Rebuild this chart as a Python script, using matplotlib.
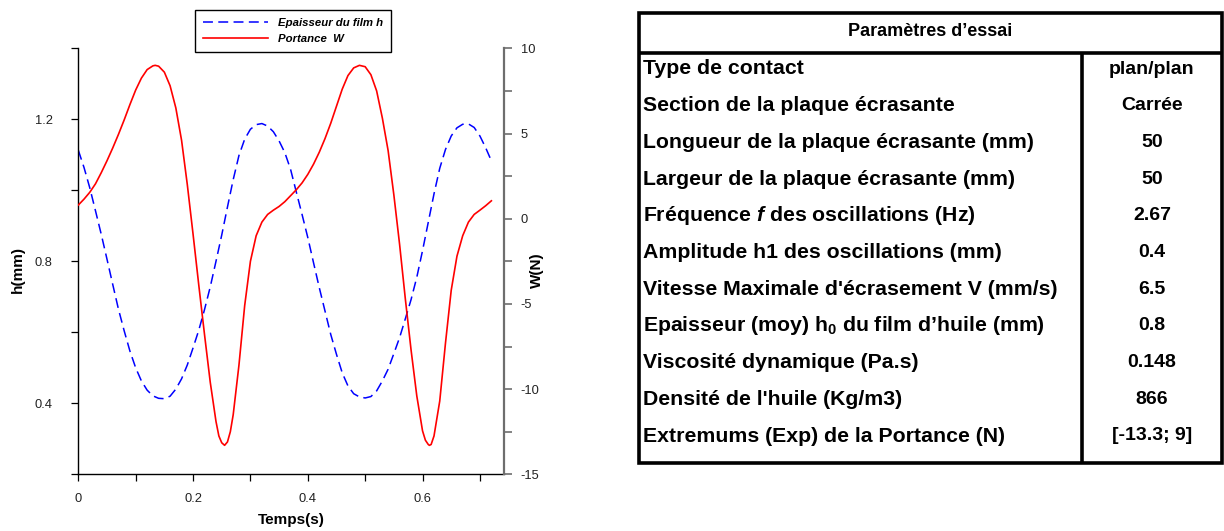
import matplotlib

matplotlib.use("Agg")
import matplotlib.pyplot as plt
from matplotlib.lines import Line2D
from matplotlib.patches import Rectangle


OUT_PATH = "out.png"
FIG_W, FIG_H = 1224, 531

plt.rcParams["font.family"] = ["Liberation Sans", "DejaVu Sans"]
plt.rcParams["mathtext.fontset"] = "custom"
plt.rcParams["mathtext.rm"] = "Liberation Sans:bold"
plt.rcParams["mathtext.it"] = "Liberation Sans:italic:bold"
plt.rcParams["mathtext.bf"] = "Liberation Sans:bold"

# film thickness h (mm), sampled every 10 ms
time_h = [0.00, 0.01, 0.02, 0.03, 0.04, 0.05, 0.06, 0.07, 0.08, 0.09,
          0.10, 0.11, 0.12, 0.13, 0.14, 0.15, 0.16, 0.17, 0.18, 0.19,
          0.20, 0.21, 0.22, 0.23, 0.24, 0.25, 0.26, 0.27, 0.28, 0.29,
          0.30, 0.31, 0.32, 0.33, 0.34, 0.35, 0.36, 0.37, 0.38, 0.39,
          0.40, 0.41, 0.42, 0.43, 0.44, 0.45, 0.46, 0.47, 0.48, 0.49,
          0.50, 0.51, 0.52, 0.53, 0.54, 0.55, 0.56, 0.57, 0.58, 0.59,
          0.60, 0.61, 0.62, 0.63, 0.64, 0.65, 0.66, 0.67, 0.68, 0.69,
          0.70, 0.71, 0.72]
thickness_h = [1.113, 1.064, 1.007, 0.942, 0.876, 0.806, 0.735, 0.665, 0.604, 0.547,
               0.500, 0.463, 0.437, 0.421, 0.414, 0.413, 0.420, 0.440, 0.469, 0.508,
               0.556, 0.606, 0.664, 0.728, 0.800, 0.874, 0.953, 1.030, 1.098, 1.144,
               1.172, 1.185, 1.188, 1.181, 1.165, 1.139, 1.106, 1.059, 0.995, 0.932,
               0.867, 0.796, 0.726, 0.660, 0.594, 0.538, 0.486, 0.449, 0.427, 0.418,
               0.415, 0.419, 0.435, 0.463, 0.496, 0.540, 0.585, 0.638, 0.692, 0.755,
               0.830, 0.910, 0.990, 1.062, 1.115, 1.153, 1.176, 1.186, 1.187, 1.177,
               1.153, 1.120, 1.083]

# load capacity W (N), with extra samples around the extremes
time_w = [0.00, 0.01, 0.02, 0.03, 0.04, 0.05, 0.06, 0.07, 0.08, 0.09,
          0.10, 0.11, 0.12, 0.13, 0.134,
          0.14, 0.15, 0.16, 0.17, 0.18, 0.19, 0.20, 0.21, 0.22, 0.23, 0.24,
          0.245, 0.25, 0.255, 0.26, 0.265,
          0.27, 0.28, 0.29, 0.30, 0.31, 0.32, 0.33, 0.34, 0.35, 0.36,
          0.37, 0.38, 0.39, 0.40, 0.41, 0.42, 0.43, 0.44, 0.45, 0.46,
          0.47, 0.48, 0.49, 0.50, 0.51, 0.52, 0.53, 0.54, 0.55, 0.56,
          0.57, 0.58, 0.59, 0.60,
          0.605, 0.61, 0.612, 0.615,
          0.62, 0.63, 0.64, 0.65, 0.66, 0.67, 0.68, 0.69, 0.70, 0.71, 0.72]
load_w = [0.8, 1.15, 1.55, 2.05, 2.7, 3.4, 4.15, 4.95, 5.8, 6.7,
          7.55, 8.25, 8.75, 8.97, 9.0,
          8.95, 8.6, 7.8, 6.5, 4.6, 2.0, -0.9, -3.9, -6.8, -9.6, -11.9,
          -12.75, -13.15, -13.3, -13.1, -12.5,
          -11.5, -8.6, -5.1, -2.5, -1.0, -0.2, 0.25, 0.5, 0.72, 1.0,
          1.35, 1.7, 2.1, 2.6, 3.2, 3.9, 4.7, 5.6, 6.6, 7.6,
          8.4, 8.85, 9.0, 8.92, 8.45, 7.5, 5.9, 4.0, 1.4, -1.5,
          -4.7, -7.7, -10.4, -12.45,
          -13.0, -13.25, -13.3, -13.25,
          -12.75, -10.7, -7.3, -4.2, -2.2, -1.0, -0.2, 0.25, 0.5, 0.76, 1.05]

time_ticks = [0.0, 0.1, 0.2, 0.3, 0.4, 0.5, 0.6, 0.7]
time_tick_labels = ["0", "", "0.2", "", "0.4", "", "0.6", ""]
h_ticks = [0.2, 0.4, 0.6, 0.8, 1.0, 1.2, 1.4]
h_tick_labels = ["", "0.4", "", "0.8", "", "1.2", ""]
w_ticks = [-15, -12.5, -10, -7.5, -5, -2.5, 0, 2.5, 5, 7.5, 10]
w_tick_labels = ["-15", "", "-10", "", "-5", "", "0", "", "5", "", "10"]

series_labels = ["Epaisseur du film h", "Portance  W"]

table_title = "Paramètres d’essai"
param_names = [
    "Type de contact",
    "Section de la plaque écrasante",
    "Longueur de la plaque écrasante (mm)",
    "Largeur de la plaque écrasante (mm)",
    r"Fréquence $\mathit{f}$ des oscillations (Hz)",
    "Amplitude h1 des oscillations (mm)",
    "Vitesse Maximale d'écrasement V (mm/s)",
    r"Epaisseur (moy) h$_\mathrm{0}$ du film d’huile (mm)",
    "Viscosité dynamique (Pa.s)",
    "Densité de l'huile (Kg/m3)",
    "Extremums (Exp) de la Portance (N)",
]
param_values = ["plan/plan", "Carrée", "50", "50", "2.67", "0.4",
                "6.5", "0.8", "0.148", "866", "[-13.3; 9]"]


def px_box(left, top, right, bottom):
    """Convert a pixel box (origin top-left) to figure fractions."""
    return [left / FIG_W, 1 - bottom / FIG_H,
            (right - left) / FIG_W, (bottom - top) / FIG_H]


def draw_curves(fig):
    ax = fig.add_axes(px_box(78.3, 48.3, 504, 474.3))
    ax2 = ax.twinx()

    blue, = ax.plot(time_h, thickness_h, color="#0000ff", lw=1.1,
                    dashes=(6.5, 3.5))
    red, = ax2.plot(time_w, load_w, color="#ff0000", lw=1.2)

    ax.set_xlim(0, 0.742)
    ax.set_ylim(0.2, 1.4)
    ax2.set_ylim(-15, 10)

    ax.set_xticks(time_ticks, labels=time_tick_labels)
    ax.set_yticks(h_ticks, labels=h_tick_labels)
    ax2.set_yticks(w_ticks, labels=w_tick_labels)

    for side in ("top", "right"):
        ax.spines[side].set_visible(False)
    for side in ("top", "left", "bottom"):
        ax2.spines[side].set_visible(False)
    ax.spines["left"].set_linewidth(1.0)
    ax.spines["bottom"].set_linewidth(1.0)
    ax2.spines["right"].set_color("#6e6e6e")
    ax2.spines["right"].set_linewidth(1.6)

    ax.tick_params(axis="y", direction="out", length=5, width=0.9,
                   labelsize=9.3, pad=13.5, labelcolor="#222222")
    ax.tick_params(axis="x", direction="out", length=5, width=0.9,
                   labelsize=9.3, pad=8.5, labelcolor="#222222")
    ax2.tick_params(axis="y", direction="out", length=5.5, width=1.2,
                    color="#6e6e6e", labelsize=9.3, pad=6.5,
                    labelcolor="#222222")

    label_font = dict(fontsize=11, fontweight="bold")
    ax.set_ylabel("h(mm)", **label_font)
    ax.yaxis.set_label_coords(-0.142, 0.48)
    ax2.set_ylabel("W(N)", rotation=90, **label_font)
    ax2.yaxis.set_label_coords(1.078, 0.48)
    ax.set_xlabel("Temps(s)", **label_font)
    ax.xaxis.set_label_coords(0.5, -0.107)
    ax.xaxis.label.set_va("center")
    ax2.yaxis.label.set_va("center")
    ax.yaxis.label.set_va("center")

    handles = [Line2D([], [], color=blue.get_color(), lw=1.1, dashes=(6.5, 3.5)),
               Line2D([], [], color=red.get_color(), lw=1.2)]
    leg = fig.legend(handles, series_labels, loc="upper left",
                     bbox_to_anchor=(195 / FIG_W, 1 - 10 / FIG_H),
                     borderaxespad=0, fancybox=False, framealpha=1,
                     edgecolor="black", handlelength=5.7, handletextpad=0.9,
                     labelspacing=0.52, borderpad=0.7,
                     prop=dict(family="Liberation Sans", style="italic",
                               weight="bold", size=8.2))
    leg.get_frame().set_linewidth(1.0)


def draw_table(fig):
    ax = fig.add_axes([0, 0, 1, 1])
    ax.set_xlim(0, FIG_W)
    ax.set_ylim(FIG_H, 0)
    ax.axis("off")

    left, right, top, bottom = 638.5, 1221.5, 13, 463
    head_y, col_x = 52.5, 1081.5
    lw = 2.6

    ax.add_patch(Rectangle((left, top), right - left, bottom - top,
                           fill=False, edgecolor="black", lw=lw))
    ax.plot([left, right], [head_y, head_y], color="black", lw=lw,
            solid_capstyle="butt")
    ax.plot([col_x, col_x], [head_y, bottom], color="black", lw=lw,
            solid_capstyle="butt")

    ax.text((left + right) / 2, 31, table_title, ha="center", va="center",
            fontsize=13, fontweight="bold")
    for i, (name, value) in enumerate(zip(param_names, param_values)):
        y = 69 + i * 36.7
        ax.text(643, y, name, ha="left", va="center",
                fontsize=15.3, fontweight="bold")
        ax.text(1152, y, value, ha="center", va="center",
                fontsize=14, fontweight="bold")


def main() -> None:
    fig = plt.figure(figsize=(FIG_W / 100, FIG_H / 100), dpi=100)
    draw_curves(fig)
    draw_table(fig)
    fig.savefig(OUT_PATH, dpi=100)


if __name__ == "__main__":
    main()
